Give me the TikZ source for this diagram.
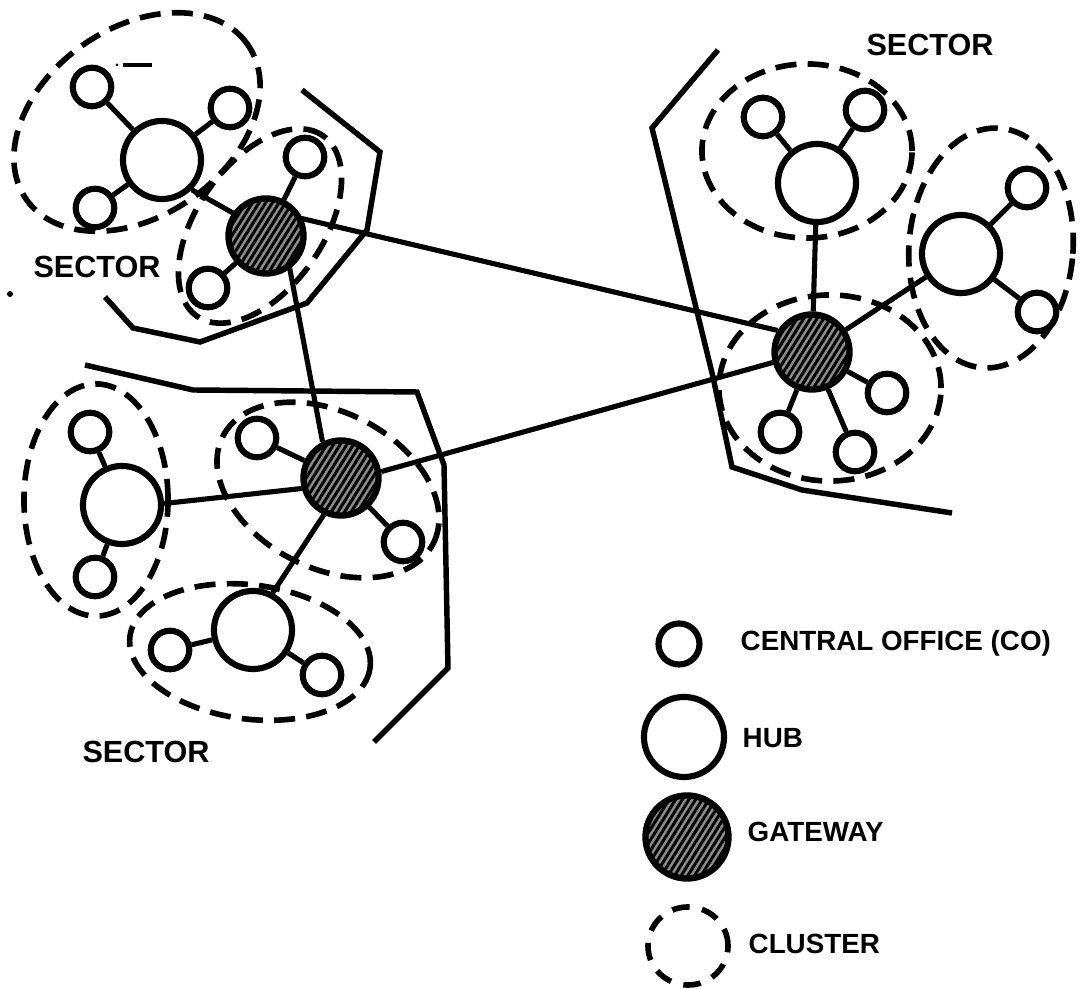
\documentclass[tikz,border=0pt]{standalone}
\usepackage{fontspec}
\setmainfont{Liberation Sans}
\usetikzlibrary{shapes.geometric,patterns.meta}

\tikzset{
  co/.style={circle, draw, line width=1.75pt, inner sep=0pt, minimum size=0.385cm},
  hub/.style={circle, draw, line width=1.75pt, inner sep=0pt, minimum size=0.78cm},
  gateway/.style={circle, draw, line width=1.8pt, inner sep=0pt, minimum size=0.75cm,
    preaction={fill=black!45},
    pattern={Lines[angle=58, distance=1.6pt, line width=0.85pt]}, pattern color=black},
  cluster/.style={ellipse, draw, line width=1.6pt, dash pattern=on 6pt off 3.2pt,
    inner sep=0pt},
  link/.style={line width=1.45pt},
  sectorline/.style={line width=1.55pt, line join=miter},
  sectorlabel/.style={font=\bfseries\fontsize{8.7}{9}\selectfont, inner sep=0pt},
  legendlabel/.style={font=\bfseries\fontsize{7.9}{9}\selectfont, inner sep=0pt, anchor=west},
}

\begin{document}
\begin{tikzpicture}[x=0.01cm, y=-0.01cm]
\useasboundingbox (0,0) rectangle (1081,989);
\fill[white] (0,0) rectangle (1081,989);

% ---------- sector boundaries ----------
\draw[sectorline] (105,297) -- (133,328) -- (200,342) -- (307,303) -- (367,230) -- (380,152) -- (302,90);
\draw[sectorline] (718,50) -- (652,128) -- (713,377) -- (732,467) -- (802,490) -- (952,513);
\draw[sectorline] (85,365) -- (193,390) -- (417,392) -- (444,465) -- (448,668) -- (374,742);

% ---------- clusters ----------
\node[cluster, minimum width=2.70cm, minimum height=1.88cm, rotate=35] (Ka1) at (137,122) {};
\node[cluster, minimum width=2.20cm, minimum height=1.26cm, rotate=55] (Ka2) at (260,226) {};
\node[cluster, minimum width=2.10cm, minimum height=1.74cm] (Kb1) at (807,151) {};
\node[cluster, minimum width=2.22cm, minimum height=1.86cm] (Kb2) at (830,388) {};
\node[cluster, minimum width=1.64cm, minimum height=2.40cm, rotate=-4] (Kb3) at (991,248) {};
\node[cluster, minimum width=1.44cm, minimum height=2.32cm] (Kc1) at (96,500) {};
\node[cluster, minimum width=2.36cm, minimum height=1.56cm, rotate=-27] (Kc2) at (328,490) {};
\node[cluster, minimum width=2.42cm, minimum height=1.34cm, rotate=-7.5] (Kc3) at (250,652) {};

% ---------- top-left sector ----------
\node[hub] (H1) at (162,160) {};
\node[co] (Ca1) at (92,87) {};
\node[co] (Ca2) at (230,108) {};
\node[co] (Ca3) at (95,208) {};
\node[gateway] (G1) at (266,236) {};
\node[co] (Ca4) at (305,157) {};
\node[co] (Ca5) at (208,288) {};

% ---------- right sector ----------
\node[hub] (H3) at (817,183) {};
\node[co] (Cb1) at (763,117) {};
\node[co] (Cb2) at (865,110) {};
\node[gateway] (G3) at (812,352) {};
\node[hub] (H4) at (961,254) {};
\node[co] (Cb3) at (1027,188) {};
\node[co] (Cb4) at (1037,312) {};
\node[co] (Cb5) at (780,432) {};
\node[co] (Cb6) at (855,452) {};
\node[co] (Cb7) at (887,393) {};

% ---------- lower-left sector ----------
\node[hub] (H5) at (122,505) {};
\node[co] (Cc1) at (90,432) {};
\node[co] (Cc2) at (95,577) {};
\node[gateway] (G2) at (341,478) {};
\node[co] (Cc3) at (257,438) {};
\node[co] (Cc4) at (403,542) {};
\node[hub] (H6) at (253,630) {};
\node[co] (Cc5) at (170,650) {};
\node[co] (Cc6) at (322,675) {};

% ---------- links ----------
\draw[link] (H1) -- (Ca1);
\draw[link] (H1) -- (Ca2);
\draw[link] (H1) -- (Ca3);
\draw[link] (H1.-45) -- (G1.145);
\draw[link] (G1) -- (Ca4);
\draw[link] (G1) -- (Ca5);

\draw[link] (H3) -- (Cb1);
\draw[link] (H3) -- (Cb2);
\draw[link] (H3) -- (G3);
\draw[link] (G3) -- (H4);
\draw[link] (H4) -- (Cb3);
\draw[link] (H4) -- (Cb4);
\draw[link] (G3) -- (Cb5);
\draw[link] (G3) -- (Cb6);
\draw[link] (G3) -- (Cb7);

\draw[link] (H5) -- (Cc1);
\draw[link] (H5) -- (Cc2);
\draw[link] (H5.2) -- (G2.-165);
\draw[link] (G2) -- (Cc3);
\draw[link] (G2) -- (Cc4);
\draw[link] (G2.-115) -- (H6.62);
\draw[link] (H6) -- (Cc5);
\draw[link] (H6) -- (Cc6);

% gateway trunks
\draw[link] (G1.27) -- (G3.148);
\draw[link] (G1.-53) -- (G2.117);
\draw[link] (G2.9) -- (G3.-165);

% ---------- sector labels ----------
\node[sectorlabel] (S1) at (97,267) {SECTOR};
\node[sectorlabel] (S2) at (930,45) {SECTOR};
\node[sectorlabel] (S3) at (146,752) {SECTOR};

% stray marks
\draw[line width=1pt] (123,65) -- (152,65);
\fill (117,65) circle (1.5);
\fill (10,294) circle (3);

% ---------- legend ----------
\node[co, minimum size=0.41cm] (Lco) at (679,644) {};
\node[legendlabel] (Tco) at (740,643) {CENTRAL OFFICE (CO)};
\node[hub, minimum size=0.80cm] (Lhub) at (684,737) {};
\node[legendlabel] (Thub) at (742,738) {HUB};
\node[gateway, minimum size=0.83cm] (Lgw) at (687,837) {};
\node[legendlabel] (Tgw) at (747,832) {GATEWAY};
\node[cluster, minimum width=0.80cm, minimum height=0.78cm, dash pattern=on 5pt off 3.6pt] (Lcl) at (688,946) {};
\node[legendlabel] (Tcl) at (748,944) {CLUSTER};
\end{tikzpicture}
\end{document}
